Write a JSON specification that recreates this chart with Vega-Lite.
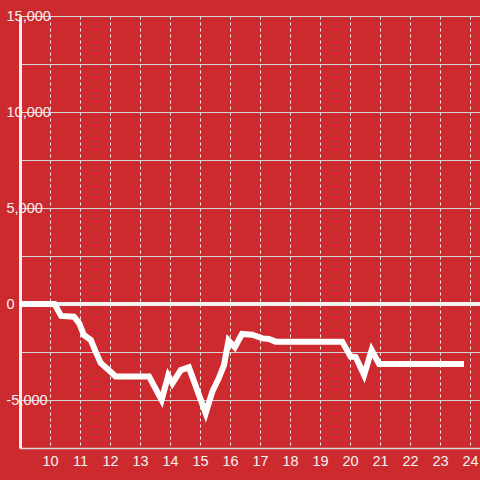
{
  "$schema": "https://vega.github.io/schema/vega-lite/v6.json",
  "width": 460,
  "height": 432,
  "autosize": {"type": "none"},
  "padding": {"left": 20, "top": 16, "right": 0, "bottom": 32},
  "background": "#cd2a2f",
  "config": {"view": {"stroke": null}, "font": "Liberation Sans"},
  "data": {
    "values": [
      {"hour": 9.0, "value": 0},
      {"hour": 10.15, "value": 0},
      {"hour": 10.37, "value": -620},
      {"hour": 10.8, "value": -660},
      {"hour": 10.97, "value": -990},
      {"hour": 11.13, "value": -1615},
      {"hour": 11.36, "value": -1875},
      {"hour": 11.52, "value": -2480},
      {"hour": 11.69, "value": -3070},
      {"hour": 12.02, "value": -3525},
      {"hour": 12.19, "value": -3770},
      {"hour": 13.3, "value": -3770},
      {"hour": 13.72, "value": -5000},
      {"hour": 13.94, "value": -3730},
      {"hour": 14.08, "value": -4130},
      {"hour": 14.36, "value": -3440},
      {"hour": 14.63, "value": -3300},
      {"hour": 15.19, "value": -5690},
      {"hour": 15.41, "value": -4570},
      {"hour": 15.63, "value": -3850},
      {"hour": 15.8, "value": -3180},
      {"hour": 15.95, "value": -1900},
      {"hour": 16.16, "value": -2250},
      {"hour": 16.4, "value": -1560},
      {"hour": 16.74, "value": -1600},
      {"hour": 17.08, "value": -1790},
      {"hour": 17.3, "value": -1820},
      {"hour": 17.52, "value": -1960},
      {"hour": 19.74, "value": -1960},
      {"hour": 20.02, "value": -2740},
      {"hour": 20.19, "value": -2760},
      {"hour": 20.47, "value": -3700},
      {"hour": 20.72, "value": -2400},
      {"hour": 20.97, "value": -3120},
      {"hour": 23.8, "value": -3120}
    ]
  },
  "layer": [
    {
      "mark": {"type": "rule", "color": "#f2f2f2", "strokeWidth": 3},
      "encoding": {"y": {"datum": 0, "type": "quantitative"}}
    },
    {
      "mark": {"type": "line", "color": "#ffffff", "strokeWidth": 6, "strokeJoin": "miter"},
      "encoding": {
        "x": {
          "field": "hour",
          "type": "quantitative",
          "scale": {"domain": [9, 24.3333], "nice": false, "zero": false},
          "axis": {
            "orient": "bottom",
            "values": [10, 11, 12, 13, 14, 15, 16, 17, 18, 19, 20, 21, 22, 23, 24],
            "grid": true,
            "gridColor": "#f0f0f0",
            "gridDash": [3, 3],
            "gridWidth": 1,
            "ticks": false,
            "domainColor": "#d8d8d8",
            "domainWidth": 1.5,
            "labelColor": "#f2f2f2",
            "labelFontSize": 14.5,
            "labelPadding": 6,
            "labelFlush": false,
            "labelOverlap": false,
            "title": null
          }
        },
        "y": {
          "field": "value",
          "type": "quantitative",
          "scale": {"domain": [-7500, 15000], "nice": false, "zero": false},
          "axis": {
            "orient": "left",
            "values": [-5000, -2500, 0, 2500, 5000, 7500, 10000, 12500, 15000],
            "grid": true,
            "gridColor": "#d4d4d4",
            "gridWidth": 1,
            "ticks": false,
            "domainColor": "#f0f0f0",
            "domainWidth": 3,
            "labelAlign": "left",
            "labelBaseline": "middle",
            "labelPadding": 14,
            "labelColor": "#f2f2f2",
            "labelFontSize": 14.5,
            "labelFlush": false,
            "labelOverlap": false,
            "labelExpr": "datum.value % 5000 === 0 ? replace(datum.label, '−', '-') : ''",
            "title": null
          }
        }
      }
    }
  ]
}
